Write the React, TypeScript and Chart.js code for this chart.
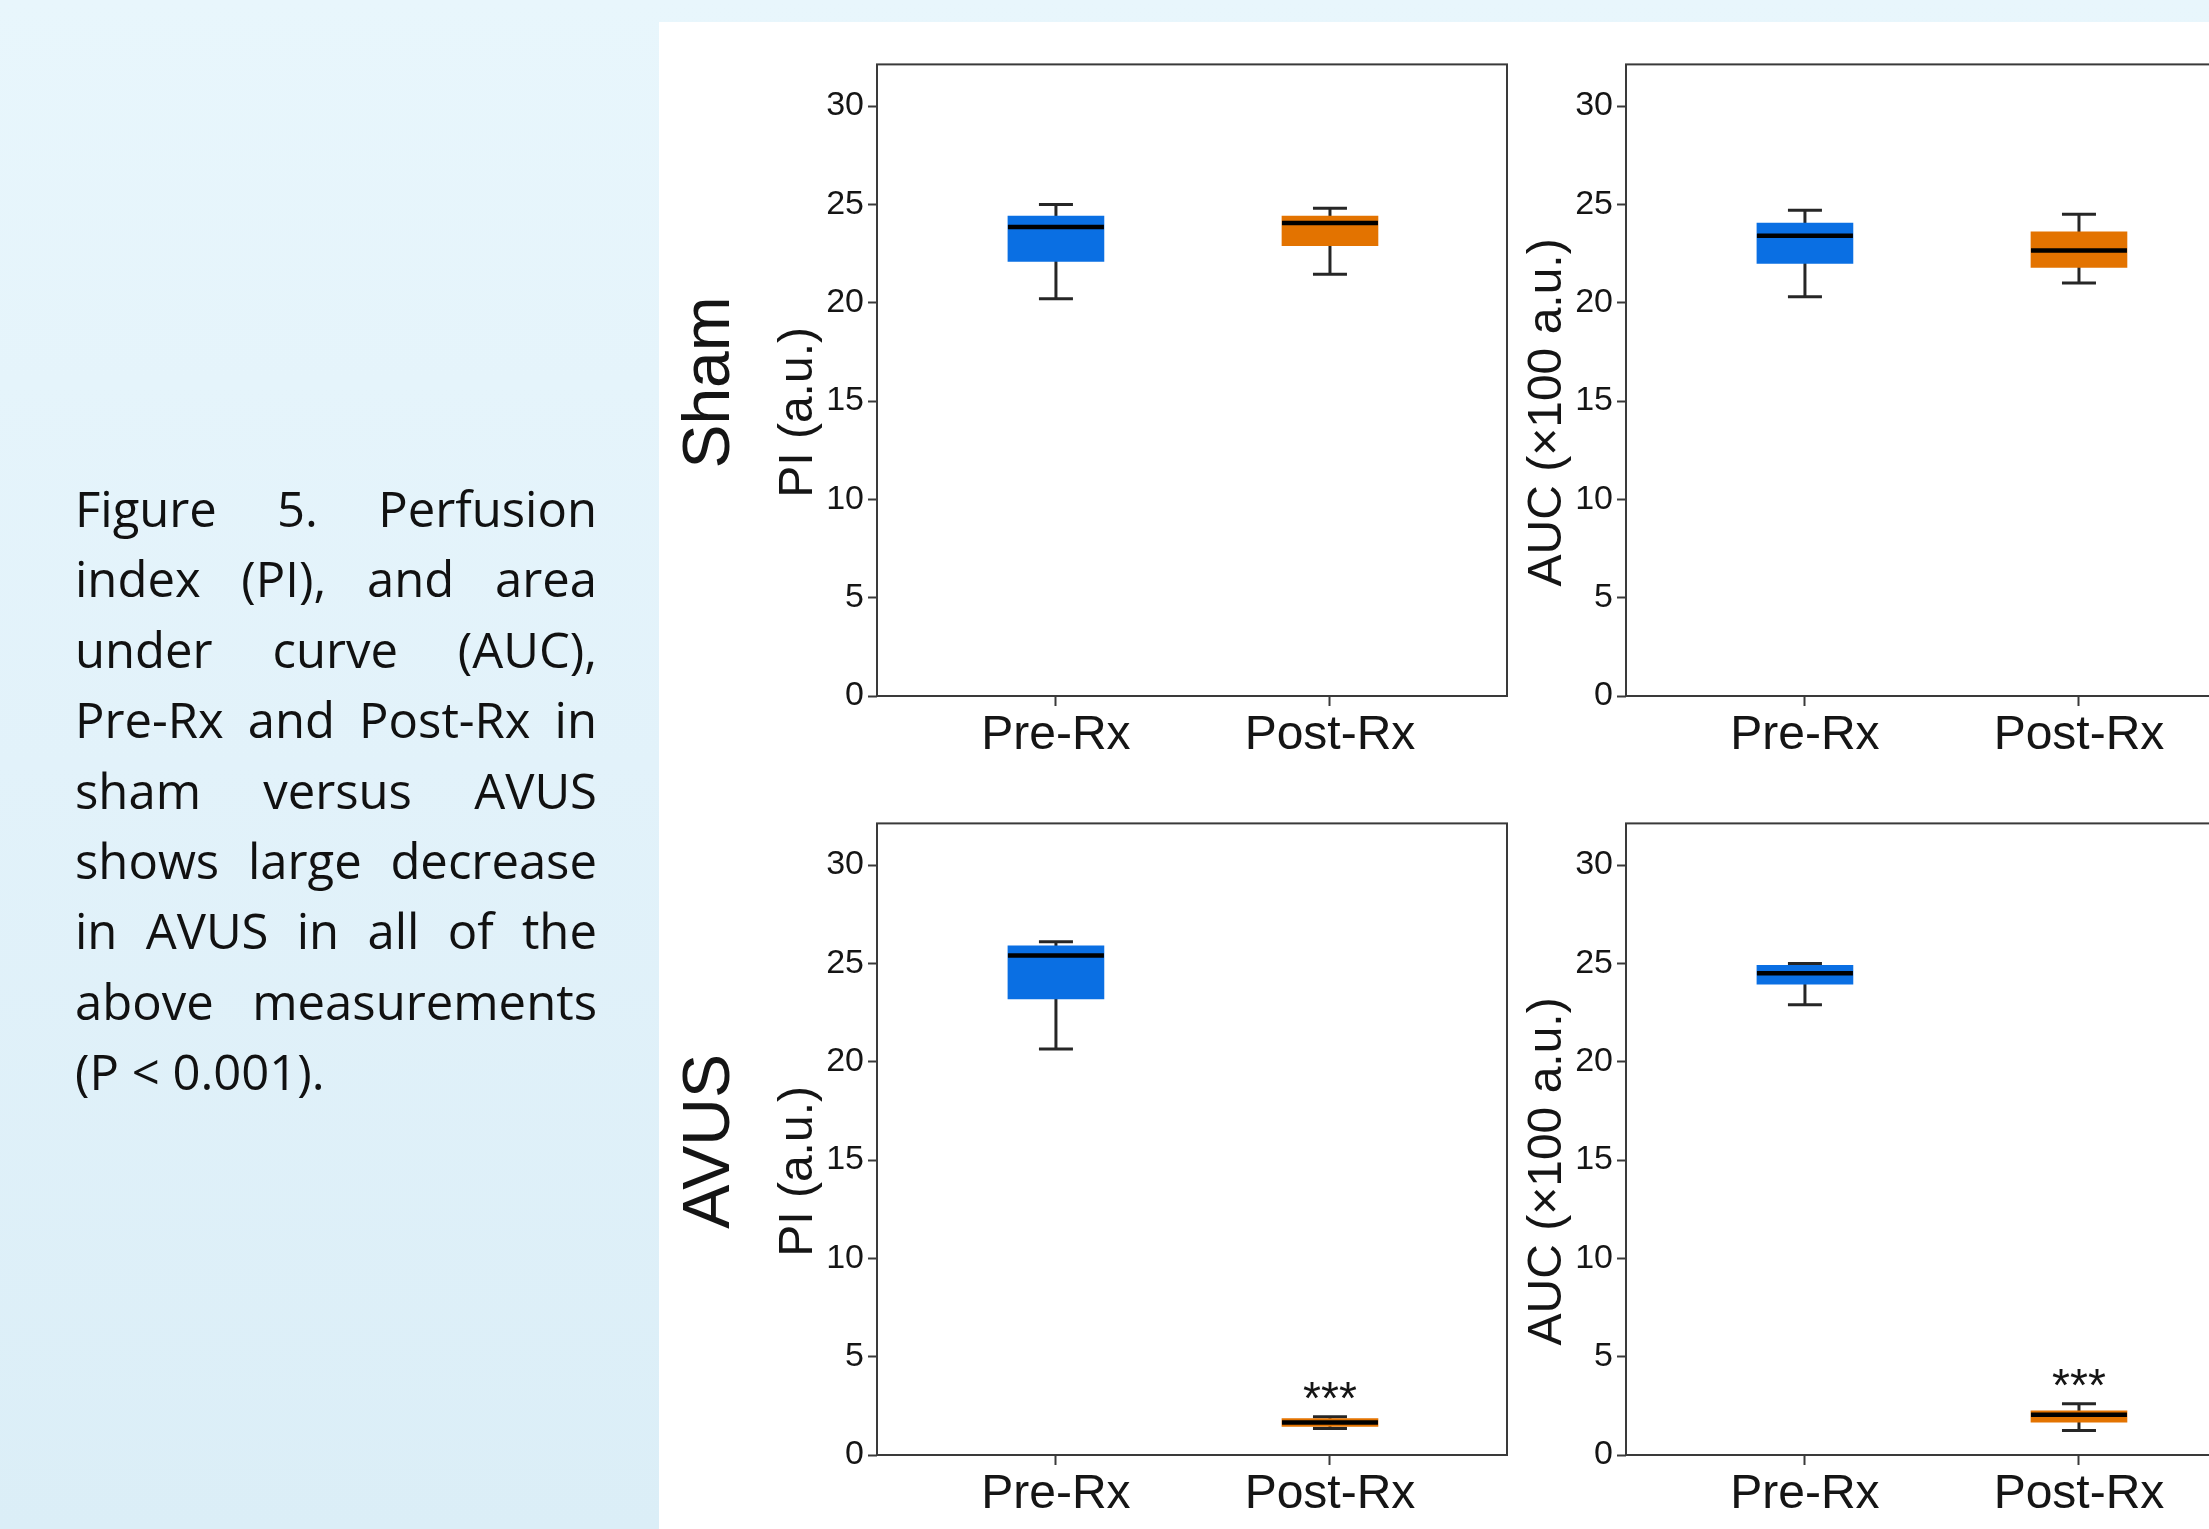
import React, { useEffect, useRef } from 'react';
import { Chart, registerables } from 'chart.js';

Chart.register(...registerables);

// ---------- data ----------
const CATEGORIES = ['Pre-Rx', 'Post-Rx'];
const CATEGORY_X = [1, 2];
const Y_TICKS = [0, 5, 10, 15, 20, 25, 30];

// five-number summaries: [min, Q1, median, Q3, max]
const SHAM_PI_PRE = [20.2, 22.1, 23.85, 24.4, 25.0];
const SHAM_PI_POST = [21.45, 22.9, 24.05, 24.4, 24.8];
const SHAM_AUC_PRE = [20.3, 22.0, 23.4, 24.05, 24.7];
const SHAM_AUC_POST = [21.0, 21.8, 22.65, 23.6, 24.5];
const AVUS_PI_PRE = [20.65, 23.2, 25.4, 25.9, 26.1];
const AVUS_PI_POST = [1.35, 1.45, 1.65, 1.85, 1.95];
const AVUS_AUC_PRE = [22.9, 23.95, 24.5, 24.9, 25.0];
const AVUS_AUC_POST = [1.25, 1.67, 2.05, 2.25, 2.6];

const SHAM_MARKS = ['', ''];
const AVUS_MARKS = ['', '***'];

const CAPTION_LINES = [
  'Figure 5. Perfusion',
  'index (PI), and area',
  'under curve (AUC),',
  'Pre-Rx and Post-Rx in',
  'sham versus AVUS',
  'shows large decrease',
  'in AVUS in all of the',
  'above measurements',
  '(P < 0.001).',
];

// ---------- styles / layout ----------
const FONT = '"Liberation Sans", Arial, Helvetica, sans-serif';
const BOX_COLORS = ['#0a6fe3', '#e37300'];
const WHISKER = '#262626';
const FRAME = '#3a3a3a';
const TEXT = '#151515';
const X_MIN = 0.347;
const X_MAX = 2.646;
const Y_MAX = 32.12;
const AXIS_W = 207;
const PAD_TOP = 21;
const PAD_RIGHT = 23;
const BOTTOM_H = 104;
const CANVAS_W = AXIS_W + 630 + PAD_RIGHT;
const CANVAS_H = PAD_TOP + 635 + BOTTOM_H;

type PanelProps = {
  left: number;
  top: number;
  pre: number[];
  post: number[];
  yTitle: string;
  rowLabel?: string;
  marks: string[];
};

function BoxPanel({ left, top, pre, post, yTitle, rowLabel, marks }: PanelProps) {
  const ref = useRef<HTMLCanvasElement>(null);

  useEffect(() => {
    const canvas = ref.current;
    if (!canvas) return;
    const series = [pre, post];
    const datasets: any[] = [];

    datasets.push({
      type: 'bar',
      data: series.map((s, i) => ({ x: CATEGORY_X[i], y: [s[1], s[3]] })),
      backgroundColor: BOX_COLORS,
      borderWidth: 0,
      barThickness: 96,
      order: 2,
    });
    series.forEach((s, i) => {
      datasets.push({
        type: 'line',
        data: [
          { x: CATEGORY_X[i], y: s[0] },
          { x: CATEGORY_X[i], y: s[4] },
        ],
        borderColor: WHISKER,
        borderWidth: 3,
        pointStyle: 'line',
        pointRadius: 17,
        pointBorderWidth: 3,
        pointBorderColor: WHISKER,
        pointBackgroundColor: WHISKER,
        order: 3,
      });
      datasets.push({
        type: 'scatter',
        data: [{ x: CATEGORY_X[i], y: s[2] }],
        pointStyle: 'line',
        pointRadius: 48,
        pointBorderWidth: 4.5,
        pointBorderColor: '#000',
        order: 1,
      });
    });

    const decor = {
      id: 'panelDecor',
      beforeDatasetsDraw(chart: any) {
        const { ctx, chartArea: a } = chart;
        ctx.save();
        ctx.strokeStyle = FRAME;
        ctx.lineWidth = 2;
        ctx.strokeRect(a.left, a.top, a.right - a.left, a.bottom - a.top);
        ctx.restore();
      },
      afterDraw(chart: any) {
        const { ctx, chartArea: a } = chart;
        const xs = chart.scales.x;
        const ys = chart.scales.y;
        ctx.save();
        ctx.fillStyle = TEXT;
        // y-axis title
        ctx.save();
        ctx.translate(a.left - 78, a.top + 348);
        ctx.rotate(-Math.PI / 2);
        ctx.font = `48px ${FONT}`;
        ctx.textAlign = 'center';
        ctx.textBaseline = 'middle';
        ctx.fillText(yTitle, 0, 0);
        ctx.restore();
        // row label
        if (rowLabel) {
          ctx.save();
          ctx.translate(a.left - 166, a.top + 318);
          ctx.rotate(-Math.PI / 2);
          ctx.font = `66px ${FONT}`;
          ctx.textAlign = 'center';
          ctx.textBaseline = 'middle';
          ctx.fillText(rowLabel, 0, 0);
          ctx.restore();
        }
        // significance marks
        ctx.font = `46px ${FONT}`;
        ctx.textAlign = 'center';
        ctx.textBaseline = 'alphabetic';
        marks.forEach((m, i) => {
          if (!m) return;
          const px = xs.getPixelForValue(CATEGORY_X[i]);
          const py = ys.getPixelForValue(series[i][4]);
          ctx.fillText(m, px, py - 3);
        });
        ctx.restore();
      },
    };

    const chart = new Chart(canvas, {
      type: 'bar',
      data: { datasets },
      options: {
        animation: false,
        responsive: false,
        devicePixelRatio: 1,
        events: [],
        layout: { autoPadding: false, padding: { left: 0, top: PAD_TOP, right: PAD_RIGHT, bottom: 0 } },
        plugins: { legend: { display: false }, tooltip: { enabled: false } },
        scales: {
          x: {
            type: 'linear',
            min: X_MIN,
            max: X_MAX,
            offset: false,
            afterBuildTicks: (scale: any) => {
              scale.ticks = CATEGORY_X.map((v) => ({ value: v }));
            },
            afterFit: (scale: any) => {
              scale.height = BOTTOM_H;
            },
            ticks: {
              callback: (v: any) => CATEGORIES[CATEGORY_X.indexOf(Number(v))],
              font: { size: 48, family: FONT, lineHeight: 1 },
              color: TEXT,
              padding: 6,
              autoSkip: false,
              maxRotation: 0,
              minRotation: 0,
            },
            grid: {
              display: true,
              drawOnChartArea: false,
              drawTicks: true,
              tickLength: 10,
              tickWidth: 2,
              tickColor: FRAME,
              offset: false,
            },
            border: { display: false },
          },
          y: {
            type: 'linear',
            min: 0,
            max: Y_MAX,
            afterBuildTicks: (scale: any) => {
              scale.ticks = Y_TICKS.map((v) => ({ value: v }));
            },
            afterFit: (scale: any) => {
              scale.width = AXIS_W;
            },
            ticks: {
              font: { size: 34, family: FONT },
              color: TEXT,
              padding: 4,
            },
            grid: {
              display: true,
              drawOnChartArea: false,
              drawTicks: true,
              tickLength: 9,
              tickWidth: 2,
              tickColor: FRAME,
            },
            border: { display: false },
          },
        },
      },
      plugins: [decor],
    } as any);

    return () => chart.destroy();
  }, [pre, post, yTitle, rowLabel, marks]);

  return (
    <canvas
      ref={ref}
      width={CANVAS_W}
      height={CANVAS_H}
      style={{ position: 'absolute', left, top, width: CANVAS_W, height: CANVAS_H }}
    />
  );
}

function Caption() {
  return (
    <div
      style={{
        position: 'absolute',
        left: 75,
        top: 473,
        width: 522,
        fontFamily: '"Open Sans", "Noto Sans", sans-serif',
        fontSize: 49,
        color: '#111',
        lineHeight: '70.4px',
      }}
    >
      {CAPTION_LINES.map((line, i) =>
        i === CAPTION_LINES.length - 1 ? (
          <div key={i} style={{ height: 70.4, whiteSpace: 'pre' }}>
            {line}
          </div>
        ) : (
          <div key={i} style={{ display: 'flex', justifyContent: 'space-between', height: 70.4 }}>
            {line.split(' ').map((w, j) => (
              <span key={j}>{w}</span>
            ))}
          </div>
        )
      )}
    </div>
  );
}

export default function App() {
  return (
    <div
      style={{
        position: 'absolute',
        left: 0,
        top: 0,
        width: 2209,
        height: 1529,
        overflow: 'hidden',
        background: 'linear-gradient(180deg, #e8f6fc 0%, #e2f2fa 50%, #dbeef7 100%)',
      }}
    >
      <div style={{ position: 'absolute', left: 659, top: 22, width: 1550, height: 1507, background: '#ffffff' }} />
      <Caption />
      <BoxPanel left={670} top={40} pre={SHAM_PI_PRE} post={SHAM_PI_POST} yTitle="PI (a.u.)" rowLabel="Sham" marks={SHAM_MARKS} />
      <BoxPanel left={1419} top={40} pre={SHAM_AUC_PRE} post={SHAM_AUC_POST} yTitle="AUC (×100 a.u.)" marks={SHAM_MARKS} />
      <BoxPanel left={670} top={799} pre={AVUS_PI_PRE} post={AVUS_PI_POST} yTitle="PI (a.u.)" rowLabel="AVUS" marks={AVUS_MARKS} />
      <BoxPanel left={1419} top={799} pre={AVUS_AUC_PRE} post={AVUS_AUC_POST} yTitle="AUC (×100 a.u.)" marks={AVUS_MARKS} />
    </div>
  );
}
